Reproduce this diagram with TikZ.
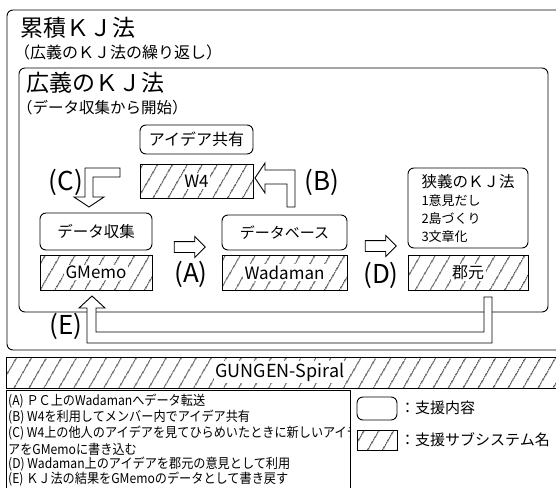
\documentclass[tikz,border=0pt]{standalone}
\usepackage{fontspec}
\setmainfont{Noto Sans CJK JP}
\newfontfamily\legfont[FakeStretch=0.9]{Noto Sans CJK JP}
\usetikzlibrary{patterns.meta,shapes.arrows}
\tikzset{
  fs/.style={font={\fontsize{#1}{#1}\selectfont}},
  frame/.style={draw, line width=0.9pt, rounded corners=6pt},
  rbox/.style={draw, line width=0.9pt, rounded corners=6pt, inner sep=0pt},
  hbox/.style={draw, line width=0.9pt, inner sep=0pt,
    pattern={Lines[angle=60,distance=13pt,line width=0.85pt]}},
  hlabel/.style={fill=white, inner sep=1.5pt, fs=17},
  blockarrow/.style={draw, line width=0.9pt, fill=white, line join=miter},
  lab/.style={fs=26, inner sep=0pt},
  sarrow/.style={single arrow, draw, line width=0.9pt, fill=white,
    minimum height=31pt, inner sep=5pt, single arrow head extend=5pt},
  legtxt/.style={anchor=west, inner sep=0pt,
    font={\legfont\fontsize{13.5}{13.5}\selectfont}},
  ttl/.style={anchor=west, inner sep=0pt}
}
\begin{document}
\begin{tikzpicture}[x=1pt,y=-1pt]
\useasboundingbox (0,0) rectangle (556,487);
\clip (0,0) rectangle (556,487);
% outer frame
\draw[frame] (7,10) rectangle (580,350);
\node[ttl, fs=23] (t1) at (20,28) {累積ＫＪ法};
\node[ttl, fs=16] (t1s) at (14,52) {（広義のＫＪ法の繰り返し）};
% inner frame
\draw[frame] (19,68) rectangle (548,312);
\node[ttl, fs=23] (t2) at (26,83) {広義のＫＪ法};
\node[ttl, fs=15.5] (t2s) at (17,108) {（データ収集から開始）};
% boxes
\node[rbox, minimum width=113pt, minimum height=29pt, fs=16] (idea) at (196.5,139.5) {アイデア共有};
\node[hbox, minimum width=113pt, minimum height=34pt] (w4) at (196.5,181) {};
\node[hlabel] (w4t) at (w4.center) {W4};
\node[rbox, minimum width=112pt, minimum height=37pt, fs=15.5] (dc) at (96,231.5) {データ収集};
\node[hbox, minimum width=112pt, minimum height=35pt] (gm) at (96,272.5) {};
\node[hlabel] (gmt) at (gm.center) {GMemo};
\node[rbox, minimum width=125pt, minimum height=35pt, fs=15] (db) at (284.5,232.5) {データベース};
\node[hbox, minimum width=125pt, minimum height=35pt] (wd) at (284.5,272.5) {};
\node[hlabel] (wdt) at (wd.center) {Wadaman};
\node[rbox, minimum width=120pt, minimum height=80pt, align=left,
  font={\fontsize{13}{18}\selectfont}] (kj) at (468,208)
  {{\fontsize{15.5}{18}\selectfont 狭義のＫＪ法}\\1意見だし\\2島づくり\\3文章化};
\node[hbox, minimum width=120pt, minimum height=35pt] (gg) at (468,272.5) {};
\node[hlabel, fs=16] (ggt) at (gg.center) {郡元};
% block arrows
\node[sarrow] (aA) at (187,247) {};
\node[sarrow] (aD) at (378,246) {};
\node[lab] (lA) at (191,274) {(A)};
\node[lab] (lD) at (381,275) {(D)};
\node[lab] (lC) at (66,182) {(C)};
\node[lab] (lB) at (322,182) {(B)};
\node[lab] (lE) at (66,326) {(E)};
\draw[blockarrow] (85,168) -- (120,168) -- (120,177) -- (93,177) -- (93,197)
  -- (104,197) -- (89,207) -- (74,197) -- (85,197) -- cycle;
\draw[blockarrow] (255,178) -- (265,163) -- (265,170) -- (295,170) -- (295,207)
  -- (287,207) -- (287,184) -- (265,184) -- (265,193) -- cycle;
\draw[blockarrow] (87,343) -- (492,343) -- (492,297) -- (484,297) -- (484,332)
  -- (96,332) -- (96,308) -- (105,308) -- (92,296) -- (79,308) -- (87,308) -- cycle;
% GUNGEN bar
\node[hbox, minimum width=570pt, minimum height=31pt] (bar) at (291,372.5) {};
\node[hlabel, fs=18] (bart) at (280,372) {GUNGEN-Spiral};
% legend
\begin{scope}
\clip (6,390) rectangle (350,490);
\node[legtxt] (lg1) at (8,401) {(A) ＰＣ上のWadamanへデータ転送};
\node[legtxt] (lg2) at (8,417) {(B) W4を利用してメンバー内でアイデア共有};
\node[legtxt] (lg3) at (8,433) {(C) W4上の他人のアイデアを見てひらめいたときに新しいアイデア};
\node[legtxt] (lg4) at (8,449) {アをGMemoに書き込む};
\node[legtxt] (lg5) at (8,464.5) {(D) Wadaman上のアイデアを郡元の意見として利用};
\node[legtxt] (lg6) at (8,479.5) {(E) ＫＪ法の結果をGMemoのデータとして書き戻す};
\end{scope}
\draw[line width=0.9pt] (6,495) -- (6,390) -- (350,390) -- (350,495);
\node[rbox, minimum width=40pt, minimum height=23pt] (k1) at (377,408.5) {};
\node[ttl, fs=15] (k1t) at (400,408) {：支援内容};
\node[hbox, minimum width=40pt, minimum height=20pt] (k2) at (377,440) {};
\node[ttl, fs=15] (k2t) at (400,440) {：支援サブシステム名};
\end{tikzpicture}
\end{document}
